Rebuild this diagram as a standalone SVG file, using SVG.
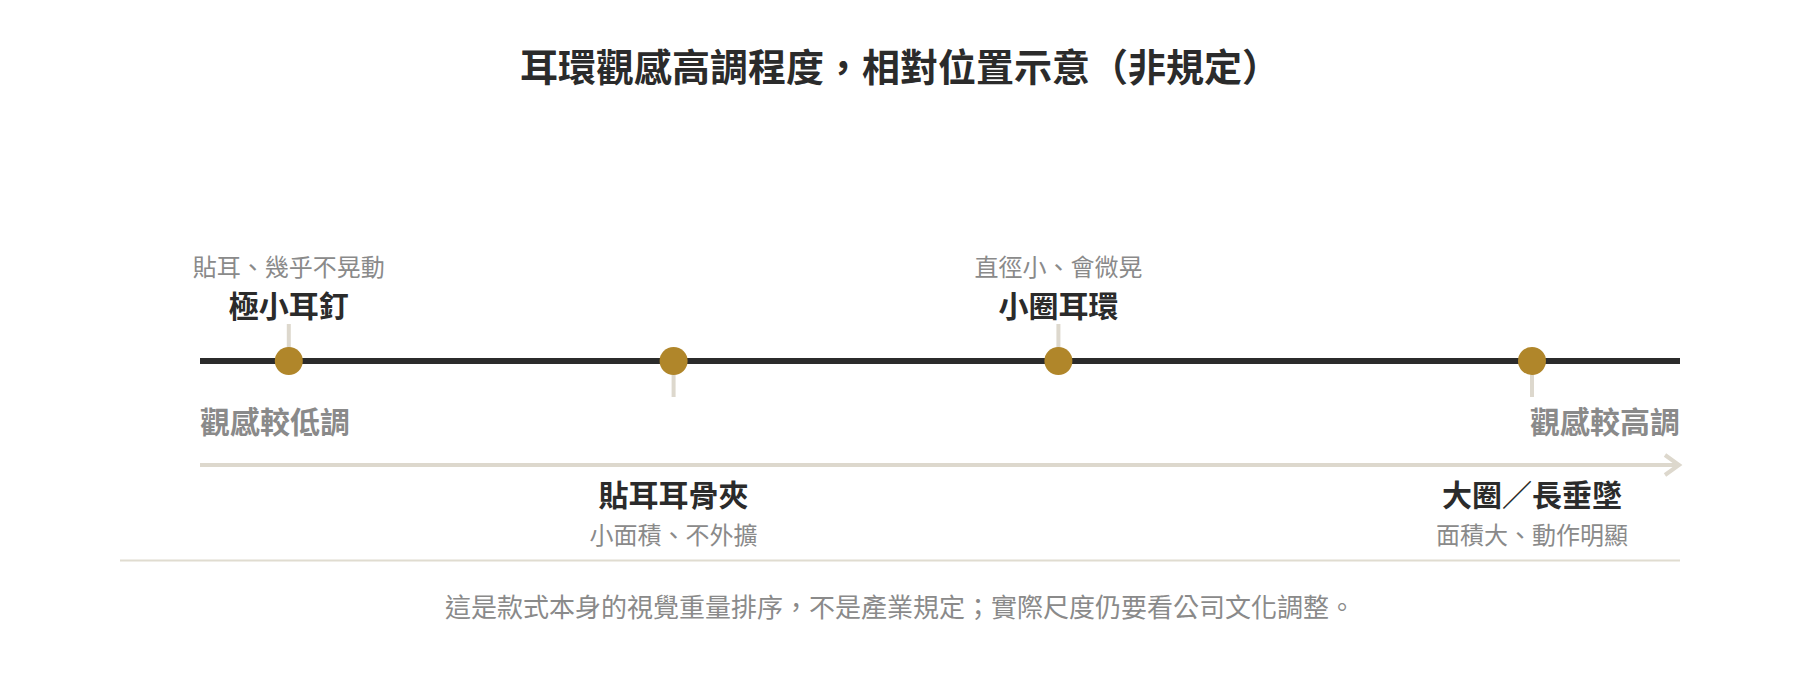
<svg xmlns="http://www.w3.org/2000/svg" width="1800" height="680" viewBox="0 0 1800 680">
  <style>
    text { font-family: "Noto Sans CJK TC", "Noto Sans CJK SC", sans-serif; }
    .title { font-size: 38px; font-weight: 700; fill: #2b2b2b; text-anchor: middle; }
    .label { font-size: 30px; font-weight: 700; fill: #2b2b2b; text-anchor: middle; }
    .sub { font-size: 24px; font-weight: 400; fill: #8a8a8a; text-anchor: middle; }
    .end { font-size: 30px; font-weight: 700; fill: #8a8a8a; }
    .note { font-size: 26px; font-weight: 400; fill: #8a8a8a; text-anchor: middle; }
    .dot { fill: #b0862a; }
    .tick { stroke: #ddd8cd; stroke-width: 4; fill: none; }
    .axis { stroke: #2b2b2b; stroke-width: 6; fill: none; }
    .dir { stroke: #ddd8cd; stroke-width: 4; fill: none; }
    .rule { stroke: #e0dcd0; stroke-width: 2; fill: none; }
  </style>
  <defs>
    <marker id="chev" viewBox="0 0 20 24" refX="16" refY="12" markerWidth="20" markerHeight="24" markerUnits="userSpaceOnUse" orient="auto">
      <path d="M2,2 L16,12 L2,22" fill="none" stroke="#ddd8cd" stroke-width="4"/>
    </marker>
  </defs>
  <rect width="1800" height="680" fill="#ffffff"/>

  <text id="title" class="title" x="900" y="81">耳環觀感高調程度，相對位置示意（非規定）</text>

  <g id="connectors">
    <line class="axis" x1="200" y1="361" x2="1680" y2="361"/>
    <line class="dir" x1="200" y1="465" x2="1679" y2="465" marker-end="url(#chev)"/>
    <line class="tick" x1="288.8" y1="324" x2="288.8" y2="361"/>
    <line class="tick" x1="673.6" y1="361" x2="673.6" y2="397"/>
    <line class="tick" x1="1058.4" y1="324" x2="1058.4" y2="361"/>
    <line class="tick" x1="1532" y1="361" x2="1532" y2="397"/>
  </g>

  <g id="node-stud">
    <circle class="dot" cx="288.8" cy="361" r="14"/>
    <text class="label" x="288.8" y="317">極小耳釘</text>
    <text class="sub" x="288.8" y="276">貼耳、幾乎不晃動</text>
  </g>

  <g id="node-cuff">
    <circle class="dot" cx="673.6" cy="361" r="14"/>
    <text class="label" x="673.6" y="506">貼耳耳骨夾</text>
    <text class="sub" x="673.6" y="544">小面積、不外擴</text>
  </g>

  <g id="node-small-hoop">
    <circle class="dot" cx="1058.4" cy="361" r="14"/>
    <text class="label" x="1058.4" y="317">小圈耳環</text>
    <text class="sub" x="1058.4" y="276">直徑小、會微晃</text>
  </g>

  <g id="node-big-hoop">
    <circle class="dot" cx="1532" cy="361" r="14"/>
    <text class="label" x="1532" y="506">大圈／長垂墜</text>
    <text class="sub" x="1532" y="544">面積大、動作明顯</text>
  </g>

  <g id="axis-ends">
    <text class="end" x="200" y="433">觀感較低調</text>
    <text class="end" x="1680" y="433" text-anchor="end">觀感較高調</text>
  </g>

  <g id="footer">
    <line class="rule" x1="120" y1="560.5" x2="1680" y2="560.5"/>
    <text class="note" x="900" y="617">這是款式本身的視覺重量排序，不是產業規定；實際尺度仍要看公司文化調整。</text>
  </g>
</svg>
